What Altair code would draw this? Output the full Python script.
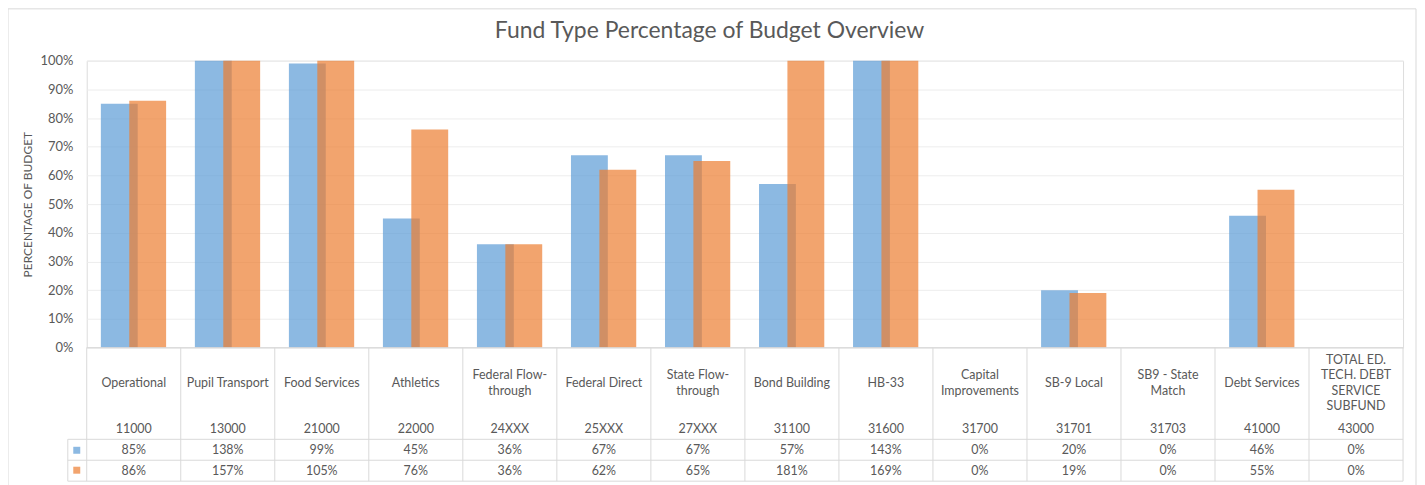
import altair as alt
import pandas as pd

# ---- data ----
categories = ["Operational", "Pupil Transport", "Food Services", "Athletics",
              "Federal Flow-\nthrough", "Federal Direct", "State Flow-\nthrough",
              "Bond Building", "HB-33", "Capital\nImprovements", "SB-9 Local",
              "SB9 - State\nMatch", "Debt Services",
              "TOTAL ED.\nTECH. DEBT\nSERVICE\nSUBFUND"]
codes = ["11000", "13000", "21000", "22000", "24XXX", "25XXX", "27XXX",
         "31100", "31600", "31700", "31701", "31703", "41000", "43000"]
series1 = [85, 138, 99, 45, 36, 67, 67, 57, 143, 0, 20, 0, 46, 0]
series2 = [86, 157, 105, 76, 36, 62, 65, 181, 169, 0, 19, 0, 55, 0]
y_ticks = [0, 0.1, 0.2, 0.3, 0.4, 0.5, 0.6, 0.7, 0.8, 0.9, 1.0]
title_text = "Fund Type Percentage of Budget Overview"
y_title = "PERCENTAGE OF BUDGET"

# ---- styling ----
W, H = 1321, 288
FONT = "Lato"
GRAY = "#595959"
LINE = "#D9D9D9"
GRID = "#EDEDED"
BLUE = "#5B9BD5"
ORANGE = "#ED7D31"
LH = 15.5

df = pd.DataFrame({
    "cat": categories,
    "code": codes,
    "s1": [v / 100 for v in series1],
    "s2": [v / 100 for v in series2],
    "t1": [f"{v}%" for v in series1],
    "t2": [f"{v}%" for v in series2],
    "nlines": [c.count("\n") + 1 for c in categories],
})

xscale = alt.Scale(domain=categories, paddingInner=0, paddingOuter=0)
xenc = alt.X("cat:N", sort=categories, scale=xscale, axis=None)
yscale = alt.Scale(domain=[0, 1], clamp=True, nice=False)

yaxis = alt.Axis(values=y_ticks, tickCount=len(y_ticks) + 1, format=".0%",
                 grid=True, gridColor=GRID,
                 domain=False, ticks=False, tickSize=0, labelPadding=14,
                 labelOverlap=False, labelBound=False, labelFlush=False,
                 labelFont=FONT, labelFontSize=13, labelColor=GRAY,
                 titleFont=FONT, titleFontSize=12, titleColor=GRAY,
                 titleFontWeight="normal", titleAngle=270,
                 titleBaseline="middle", titleAlign="center",
                 titleX=-59, titleY=144)

base = alt.Chart(df)

bars1 = base.mark_bar(width=37, xOffset=-14.5, color=BLUE, opacity=0.7).encode(
    x=xenc,
    y=alt.Y("s1:Q", scale=yscale, title=y_title, axis=yaxis),
)
bars2 = base.mark_bar(width=37, xOffset=14, color=ORANGE, opacity=0.7).encode(
    x=xenc,
    y=alt.Y("s2:Q", scale=yscale, title=y_title, axis=yaxis),
)

one = pd.DataFrame({"a": [0]})


def hline(y, x0, x1):
    return alt.Chart(one).mark_rule(color=LINE, strokeWidth=1).encode(
        x=alt.value(x0), x2=alt.value(x1), y=alt.value(y))


def vline(x, y0, y1):
    return alt.Chart(one).mark_rule(color=LINE, strokeWidth=1).encode(
        x=alt.value(x), y=alt.value(y0), y2=alt.value(y1))


# table grid
col_lines = base.mark_rule(color=LINE, strokeWidth=1).encode(
    x=alt.X("cat:N", sort=categories, scale=xscale, axis=None, bandPosition=0),
    y=alt.value(288), y2=alt.value(422),
)
table_lines = [
    col_lines,
    vline(W, 288, 422),
    vline(-19, 380, 422),
    hline(288, 0, W),
    hline(380, -19, W),
    hline(401, -19, W),
    hline(422, -19, W),
]

txt = dict(font=FONT, fontSize=12.5, color=GRAY, baseline="middle", align="center")
name_layers = []
for n in sorted(set(df["nlines"])):
    name_layers.append(
        base.transform_filter(alt.datum.nlines == n)
        .mark_text(lineBreak="\n", lineHeight=LH, **txt)
        .encode(x=xenc, y=alt.value(323.5 - (n - 1) * LH / 2), text="cat:N")
    )
code_row = base.mark_text(**txt).encode(x=xenc, y=alt.value(369.5), text="code:N")
row1 = base.mark_text(**txt).encode(x=xenc, y=alt.value(390.5), text="t1:N")
row2 = base.mark_text(**txt).encode(x=xenc, y=alt.value(411.5), text="t2:N")

key1 = alt.Chart(one).mark_square(size=49, color=BLUE, opacity=0.7).encode(
    x=alt.value(-10), y=alt.value(391))
key2 = alt.Chart(one).mark_square(size=49, color=ORANGE, opacity=0.7).encode(
    x=alt.value(-10), y=alt.value(411))

title = alt.Chart(one).mark_text(font=FONT, fontSize=23, color=GRAY,
                                 baseline="middle", align="center").encode(
    x=alt.value(625), y=alt.value(-30), text=alt.value(title_text))

frame = [
    hline(-52, -79, 1334),
    vline(-79, -52, 477),
    vline(1334, -52, 477),
]

chart = alt.layer(
    *frame, bars1, bars2, *table_lines, *name_layers, code_row, row1, row2,
    key1, key2, title
).properties(
    width=W, height=H,
    autosize=alt.AutoSizeParams(type="none"),
    padding={"left": 79, "top": 52, "right": 14, "bottom": 137},
).configure_view(stroke=None).configure(background="white")

chart.save("out.html", embed_options={"renderer": "svg", "actions": False})
